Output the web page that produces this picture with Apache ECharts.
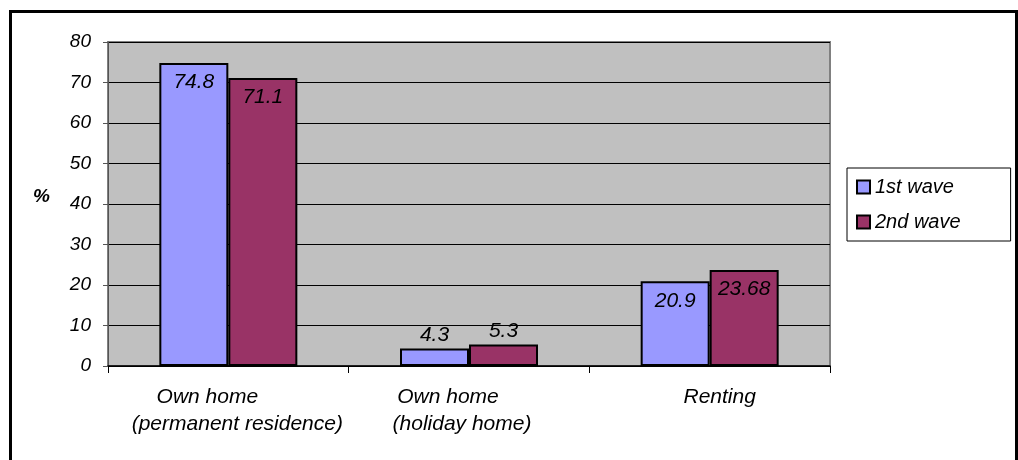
<!DOCTYPE html>
<html>
<head>
<meta charset="utf-8">
<style>
  html, body { margin: 0; padding: 0; background: #ffffff; }
  #chart { width: 1018px; height: 460px; }
</style>
<script src="https://cdn.jsdelivr.net/npm/echarts@6/dist/echarts.min.js"></script>
</head>
<body>
<div id="chart"></div>
<script>
// Housing tenure by survey wave (%)
const categories = [
  ['Own home', '(permanent residence)'],
  ['Own home', '(holiday home)'],
  ['Renting']
];
const seriesNames = ['1st wave', '2nd wave'];
const wave1 = [74.8, 4.3, 20.9];
const wave2 = [71.1, 5.3, 23.68];
const yTicks = { min: 0, max: 80, step: 10 };
const yAxisTitle = '%';

const FONT = '"Liberation Sans", Arial, sans-serif';
const colors = ['#9999FF', '#993366'];

// per-line horizontal nudges of the category captions (px, + moves right)
const lineNudge = [[-21, 9], [-21, -7], [10]];

const rich = {};
lineNudge.forEach((lines, ci) => {
  lines.forEach((dx, li) => {
    rich['c' + ci + '_' + li] = {
      fontFamily: FONT, fontStyle: 'italic', fontSize: 21, color: '#000',
      lineHeight: 27, align: 'center',
      padding: dx >= 0 ? [0, 0, 0, 2 * dx] : [0, -2 * dx, 0, 0]
    };
  });
});

function barData(values) {
  return values.map(v => ({
    value: v,
    label: v < 10
      ? { position: 'top', distance: 3 }
      : { position: 'insideTop', distance: 9 }
  }));
}

function makeSeries(name, values, color) {
  return {
    name: name,
    type: 'bar',
    barWidth: 69,
    barGap: '0%',
    data: barData(values),
    itemStyle: { color: color, borderColor: '#000', borderWidth: 2 },
    label: {
      show: true,
      fontFamily: FONT, fontStyle: 'italic', fontSize: 21, color: '#000',
      formatter: p => String(p.value)
    }
  };
}

const chart = echarts.init(document.getElementById('chart'), null, { renderer: 'canvas' });
chart.setOption({
  animation: false,
  backgroundColor: '#ffffff',
  textStyle: { fontFamily: FONT },
  graphic: [{
    type: 'rect',
    shape: { x: 10.5, y: 11.5, width: 1006, height: 520 },
    style: { fill: 'none', stroke: '#000', lineWidth: 3 },
    z: 100
  }],
  grid: {
    left: 108, right: 188, top: 42, bottom: 94,
    show: true, backgroundColor: '#C0C0C0',
    borderColor: '#808080', borderWidth: 2
  },
  legend: {
    orient: 'vertical',
    left: 847, top: 168,
    data: seriesNames,
    icon: 'rect',
    itemWidth: 13, itemHeight: 13,
    itemGap: 15,
    padding: [9, 50, 9, 9],
    borderColor: '#000', borderWidth: 1,
    backgroundColor: '#fff',
    textStyle: {
      fontFamily: FONT, fontStyle: 'italic', fontSize: 20, color: '#000', lineHeight: 20
    },
    itemStyle: { borderColor: '#000', borderWidth: 2 }
  },
  xAxis: {
    type: 'category',
    data: categories.map(c => c.join(' ')),
    axisLine: { show: true, lineStyle: { color: '#000', width: 1.5 } },
    axisTick: { show: true, length: 7, lineStyle: { color: '#000' } },
    axisLabel: {
      margin: 18,
      interval: 0,
      formatter: (val, idx) => categories[idx]
        .map((line, li) => '{c' + idx + '_' + li + '|' + line + '}')
        .join('\n'),
      rich: rich
    },
    splitLine: { show: false }
  },
  yAxis: {
    type: 'value',
    min: yTicks.min, max: yTicks.max, interval: yTicks.step,
    name: yAxisTitle,
    nameLocation: 'middle',
    nameRotate: 0,
    nameGap: 58,
    nameTextStyle: {
      fontFamily: FONT, fontStyle: 'italic', fontWeight: 'bold', fontSize: 19, color: '#000',
      verticalAlign: 'bottom', lineHeight: 14
    },
    axisLine: { show: true, lineStyle: { color: '#555', width: 1 } },
    axisTick: { show: true, length: 5, lineStyle: { color: '#555' } },
    axisLabel: {
      margin: 17,
      fontFamily: FONT, fontStyle: 'italic', fontSize: 19, color: '#000'
    },
    splitLine: { show: true, lineStyle: { color: '#000', width: 1 } }
  },
  series: [
    makeSeries(seriesNames[0], wave1, colors[0]),
    makeSeries(seriesNames[1], wave2, colors[1])
  ]
});
</script>
</body>
</html>
